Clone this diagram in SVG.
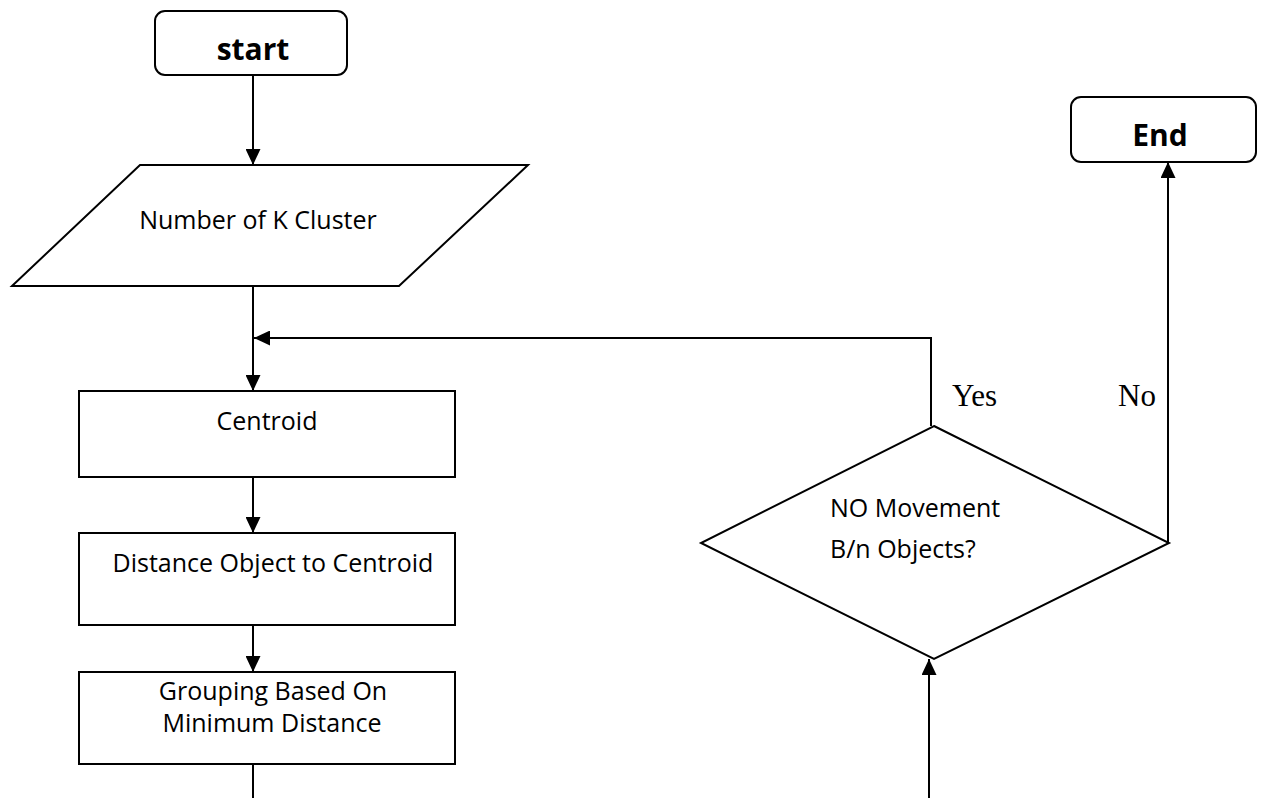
<svg xmlns="http://www.w3.org/2000/svg" width="1266" height="798" viewBox="0 0 1266 798">
  <style>
    .shape { fill: #ffffff; stroke: #000000; stroke-width: 2; }
    .wire { fill: none; stroke: #000000; stroke-width: 2; }
    .label { font-family: "Open Sans", "Liberation Sans", sans-serif; font-size: 25px; fill: #000000; }
    .term { font-family: "Open Sans", "Liberation Sans", sans-serif; font-size: 30px; font-weight: bold; fill: #000000; text-anchor: middle; }
    .branch { font-family: "Liberation Serif", "DejaVu Serif", serif; font-size: 31px; fill: #000000; }
    .mid { text-anchor: middle; }
  </style>
  <defs>
    <marker id="arrow" markerUnits="userSpaceOnUse" markerWidth="16" markerHeight="15" refX="16" refY="7.5" orient="auto">
      <path d="M0,0 L16,7.5 L0,15 z" fill="#000000"/>
    </marker>
  </defs>
  <rect width="1266" height="798" fill="#ffffff"/>

  <!-- flow connectors -->
  <g id="connectors">
    <path class="wire" d="M253 75 V165" marker-end="url(#arrow)"/>
    <path class="wire" d="M253 286 V391" marker-end="url(#arrow)"/>
    <path class="wire" d="M253 477 V533" marker-end="url(#arrow)"/>
    <path class="wire" d="M253 625 V672" marker-end="url(#arrow)"/>
    <path class="wire" d="M253 764 V798"/>
    <path class="wire" d="M929 798 V659" marker-end="url(#arrow)"/>
    <path class="wire" d="M931 426 V338 H254" marker-end="url(#arrow)"/>
    <path class="wire" d="M1168 543 V162" marker-end="url(#arrow)"/>
  </g>

  <g id="start">
    <rect class="shape" x="155" y="11" width="192" height="64" rx="10" ry="10"/>
    <text class="term" x="253" y="60">start</text>
  </g>

  <g id="input-k">
    <polygon class="shape" points="140,165 528,165 399,286 12,286"/>
    <text class="label mid" x="258" y="229">Number of K Cluster</text>
  </g>

  <g id="centroid">
    <rect class="shape" x="79" y="391" width="376" height="86"/>
    <text class="label mid" x="267" y="430">Centroid</text>
  </g>

  <g id="distance">
    <rect class="shape" x="79" y="533" width="376" height="92"/>
    <text class="label mid" x="273" y="572">Distance Object to Centroid</text>
  </g>

  <g id="grouping">
    <rect class="shape" x="79" y="672" width="376" height="92"/>
    <text class="label mid" x="273" y="700">Grouping Based On</text>
    <text class="label mid" x="272" y="732">Minimum Distance</text>
  </g>

  <g id="decision">
    <polygon class="shape" points="934,426 1169,543 934,659 701,543"/>
    <text class="label" x="830" y="517">NO Movement</text>
    <text class="label" x="830" y="558">B/n Objects?</text>
  </g>

  <g id="end">
    <rect class="shape" x="1071" y="97" width="185" height="65" rx="10" ry="10"/>
    <text class="term" x="1160" y="146">End</text>
  </g>

  <g id="branch-labels">
    <text class="branch" x="952" y="406">Yes</text>
    <text class="branch" x="1118" y="406">No</text>
  </g>
</svg>
